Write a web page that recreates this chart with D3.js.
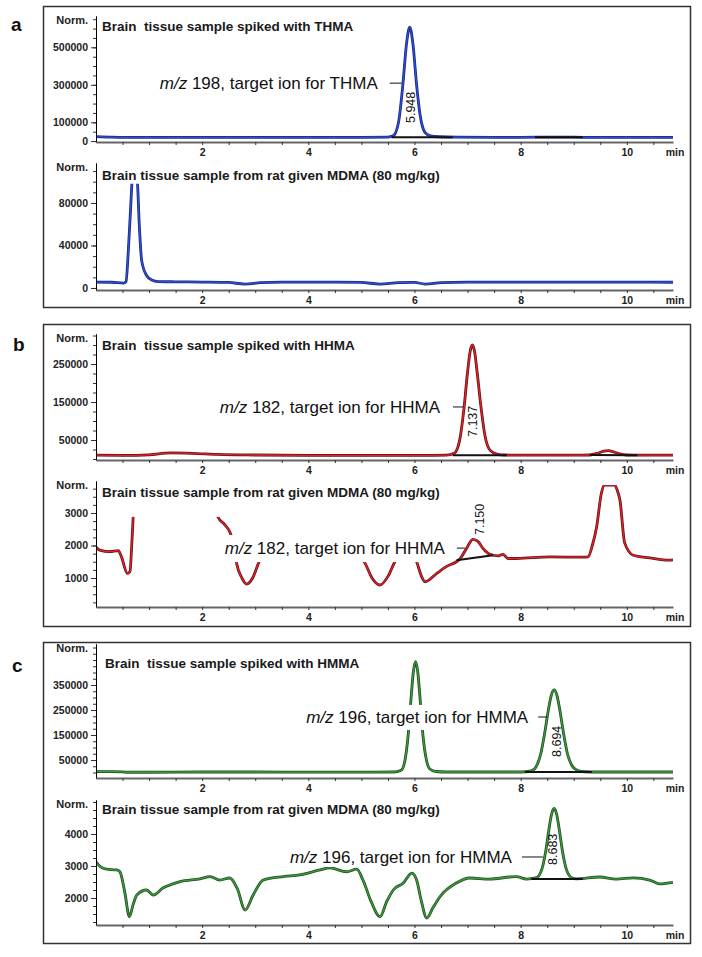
<!DOCTYPE html>
<html>
<head>
<meta charset="utf-8">
<title>Brain tissue chromatograms</title>
<script src="https://cdn.jsdelivr.net/npm/d3@7"></script>
<style>
  body { margin: 0; background: #fff; }
  text { font-family: "Liberation Sans", Arial, sans-serif; }
  .tick text { font-size: 10.5px; font-weight: bold; fill: #222; }
</style>
</head>
<body>
<div id="chart-area"></div>
<script>
/*
*    Chromatograms a/b/c : spiked brain tissue vs rat given MDMA
*/

// retention time axis (min)
var timeTicks = [2, 4, 6, 8, 10];
var timeMinor = [0.5, 1, 1.5, 2, 2.5, 3, 3.5, 4, 4.5, 5, 5.5, 6, 6.5, 7, 7.5, 8, 8.5, 9, 9.5, 10, 10.5];

// a - m/z 198 (THMA)
var thmaSpikedTime = [0, 0.3, 0.6, 1, 2, 3, 4, 5, 5.5, 5.6, 5.7, 5.78, 5.85, 5.91, 5.97, 6.04, 6.1, 6.2, 6.3, 6.45, 6.8, 8, 8.5, 8.8, 9.2, 10, 10.87];
var thmaSpikedSignal = [24000, 21000, 20000, 20000, 20000, 20000, 20000, 20000, 21000, 28000, 102000, 298000, 520000, 608000, 520000, 298000, 150000, 45000, 28000, 23000, 21000, 20000, 21000, 21500, 20000, 20000, 20000];
var thmaRatTime = [0, 0.3, 0.52, 0.565, 0.61, 0.65, 0.69, 0.72, 0.77, 0.82, 0.86, 0.95, 1.05, 1.17, 1.5, 2, 2.5, 2.8, 3.1, 3.5, 4, 4.5, 5.0, 5.35, 5.7, 6.0, 6.2, 6.5, 7, 8, 9, 10, 10.87];
var thmaRatSignal = [5600, 5400, 4600, 6000, 36000, 73000, 110000, 125000, 110000, 55000, 26000, 12000, 7500, 6000, 5800, 5600, 5200, 3700, 5000, 5600, 5600, 5600, 5200, 3700, 5000, 5200, 3700, 5000, 5600, 5600, 5600, 5500, 5400];

// b - m/z 182 (HHMA)
var hhmaSpikedTime = [0, 0.5, 1.0, 1.4, 1.8, 2.3, 3, 4, 5, 6, 6.6, 6.75, 6.85, 6.93, 7.0, 7.05, 7.09, 7.13, 7.18, 7.25, 7.33, 7.43, 7.55, 7.7, 8, 9, 9.3, 9.45, 9.55, 9.65, 9.75, 9.85, 10.0, 10.3, 10.87];
var hhmaSpikedSignal = [10000, 9500, 11000, 16000, 15000, 12000, 10500, 9500, 9500, 9500, 10000, 15000, 49000, 130000, 229000, 284000, 300000, 284000, 229000, 140000, 60000, 22000, 13000, 10500, 10000, 10000, 10500, 15000, 20000, 22000, 19000, 14000, 10500, 10000, 10000];
var hhmaRatTime = [0, 0.07, 0.26, 0.42, 0.48, 0.59, 0.64, 0.67, 0.70, 0.74, 0.8, 1.5, 2.1, 2.25, 2.30, 2.42, 2.52, 2.6, 2.65, 2.75, 2.84, 2.95, 3.06, 3.2, 3.5, 4.0, 4.6, 4.9, 5.07, 5.2, 5.35, 5.5, 5.63, 5.75, 5.9, 6.04, 6.12, 6.2, 6.42, 6.6, 6.79, 6.85, 6.98, 7.1, 7.2, 7.29, 7.42, 7.58, 7.67, 7.76, 7.92, 8.55, 9.18, 9.27, 9.35, 9.43, 9.52, 9.58, 9.67, 9.77, 9.82, 9.87, 9.96, 10.12, 10.43, 10.8, 10.87];
var hhmaRatSignal = [1960, 1860, 1810, 1840, 1650, 1140, 1200, 1900, 2870, 4200, 5000, 5000, 4000, 3100, 2870, 2650, 2420, 2000, 1450, 1000, 815, 1000, 1450, 1900, 2000, 2000, 1950, 1800, 1450, 1000, 785, 1050, 1500, 1800, 1800, 1500, 1100, 885, 1145, 1350, 1500, 1575, 1910, 2190, 2120, 1910, 1730, 1680, 1730, 1600, 1600, 1650, 1640, 1650, 2000, 2560, 3600, 3860, 3860, 3860, 3700, 3400, 2080, 1700, 1620, 1550, 1560];

// c - m/z 196 (HMMA)
var hmmaSpikedTime = [0, 0.3, 0.5, 0.6, 1, 2, 3, 4, 5, 5.6, 5.75, 5.82, 5.88, 5.94, 5.98, 6.02, 6.06, 6.1, 6.16, 6.22, 6.29, 6.4, 6.6, 7, 8, 8.2, 8.3, 8.38, 8.46, 8.53, 8.58, 8.63, 8.68, 8.73, 8.8, 8.88, 8.96, 9.06, 9.2, 9.5, 10, 10.87];
var hmmaSpikedSignal = [3500, 3500, 2500, 1000, 1000, 2000, 2000, 1500, 1500, 2000, 9000, 48000, 147000, 310000, 405000, 443000, 405000, 310000, 147000, 55000, 14000, 4000, 2000, 2000, 2000, 6000, 26600, 76000, 167000, 260000, 311000, 330000, 311000, 260000, 167000, 76000, 30000, 9000, 3000, 2000, 2000, 2000];
var hmmaRatTime = [0, 0.08, 0.2, 0.39, 0.45, 0.54, 0.63, 0.7, 0.77, 0.95, 1.08, 1.26, 1.58, 1.96, 2.15, 2.33, 2.52, 2.66, 2.81, 2.96, 3.15, 3.53, 3.84, 4.22, 4.41, 4.72, 4.91, 5.03, 5.18, 5.35, 5.48, 5.6, 5.79, 5.95, 6.04, 6.13, 6.23, 6.35, 6.48, 6.79, 7.04, 7.42, 7.8, 7.92, 8.11, 8.3, 8.4, 8.47, 8.53, 8.58, 8.63, 8.68, 8.73, 8.79, 8.86, 8.96, 9.05, 9.49, 9.8, 10.12, 10.43, 10.62, 10.84, 10.87];
var hmmaRatSignal = [3130, 2980, 2900, 2875, 2820, 2200, 1415, 1800, 2094, 2250, 2094, 2310, 2510, 2600, 2667, 2560, 2625, 2300, 1625, 2094, 2560, 2667, 2720, 2875, 2940, 2820, 2900, 2560, 1900, 1415, 1900, 2250, 2470, 2780, 2560, 1900, 1375, 1700, 2040, 2470, 2625, 2590, 2656, 2667, 2590, 2635, 2900, 3436, 4107, 4600, 4800, 4600, 4107, 3436, 2900, 2635, 2600, 2656, 2590, 2630, 2560, 2440, 2480, 2480];

// integration baselines [t1, v1, t2, v2]
var thmaSpikedBase = [[5.57, 20000, 6.72, 20000], [8.27, 21000, 9.17, 21000]];
var thmaRatBase = [];
var hhmaSpikedBase = [[6.72, 10000, 7.74, 10000], [9.3, 10500, 10.2, 10000]];
var hhmaRatBase = [[6.79, 1550, 7.48, 1700]];
var hmmaSpikedBase = [[8.08, 2000, 9.34, 2000]];
var hmmaRatBase = [[8.2, 2594, 9.17, 2594]];

// labelled y ticks
var thmaSpikedTicks = [0, 100000, 300000, 500000];
var thmaRatTicks = [0, 40000, 80000];
var hhmaSpikedTicks = [50000, 150000, 250000];
var hhmaRatTicks = [1000, 2000, 3000];
var hmmaSpikedTicks = [50000, 150000, 250000, 350000];
var hmmaRatTicks = [2000, 3000, 4000];

// texts
var titles = ["Brain  tissue sample spiked with THMA",
              "Brain tissue sample from rat given MDMA (80 mg/kg)",
              "Brain  tissue sample spiked with HHMA",
              "Brain tissue sample from rat given MDMA (80 mg/kg)",
              "Brain  tissue sample spiked with HMMA",
              "Brain tissue sample from rat given MDMA (80 mg/kg)"];
var ionLabels = ["198, target ion for THMA", null, "182, target ion for HHMA", "182, target ion for HHMA",
                 "196, target ion for HMMA", "196, target ion for HMMA"];
var rtLabels = ["5.948", null, "7.137", "7.150", "8.694", "8.683"];

var blue = ["#1c2677", "#2b50e0"], red = ["#5c1414", "#e8202a"], green = ["#1f4d1f", "#3d9b3d"];

var panels = [
    { letter: "a", top: 6, bottom: 307, lx: 11, ly: 31 },
    { letter: "b", top: 324, bottom: 626, lx: 13, ly: 351 },
    { letter: "c", top: 642, bottom: 943, lx: 12, ly: 672 }
];

var charts = [
    { time: thmaSpikedTime, signal: thmaSpikedSignal, base: thmaSpikedBase, ticks: thmaSpikedTicks, minor: 50000,
      axisY: 142, topY: 16, lo: -5000, hi: 667000, titleX: 102, titleY: 26, colors: blue,
      ionAt: [5.76, 309000], ionLead: 12, ionGap: 12, ionPad: [3, 3], rtAt: [6.01, 96300] },
    { time: thmaRatTime, signal: thmaRatSignal, base: thmaRatBase, ticks: thmaRatTicks, minor: 10000,
      axisY: 290, topY: 163, lo: -1900, hi: 117600, titleX: 102, titleY: 175, colors: blue },
    { time: hhmaSpikedTime, signal: hhmaSpikedSignal, base: hhmaSpikedBase, ticks: hhmaSpikedTicks, minor: 25000,
      axisY: 460, topY: 334, lo: -2600, hi: 329000, titleX: 102, titleY: 345, colors: red,
      ionAt: [6.914, 137000], ionLead: 10, ionGap: 13, ionPad: [3, 3], rtAt: [7.18, 57900] },
    { time: hhmaRatTime, signal: hhmaRatSignal, base: hhmaRatBase, ticks: hhmaRatTicks, minor: 250,
      axisY: 607, topY: 481, lo: 108, hi: 3985, titleX: 102, titleY: 492, colors: red, maskTo: 2880,
      ionAt: [6.95, 1920], ionLead: 8, ionGap: 12, ionPad: [4, 4], rtAt: [7.31, 2323] },
    { time: hmmaSpikedTime, signal: hmmaSpikedSignal, base: hmmaSpikedBase, ticks: hmmaSpikedTicks, minor: 25000,
      axisY: 778, topY: 644, lo: -22000, hi: 514000, titleX: 105, titleY: 663, colors: green,
      ionAt: [8.50, 222000], ionLead: 9, ionGap: 10, ionPad: [3, 3], rtAt: [8.76, 62000] },
    { time: hmmaRatTime, signal: hmmaRatSignal, base: hmmaRatBase, ticks: hmmaRatTicks, minor: 250,
      axisY: 925, topY: 800, lo: 1156, hi: 5062, titleX: 102, titleY: 809, colors: green,
      ionAt: [8.42, 3281], ionLead: 21, ionGap: 10, ionPad: [3, 0], rtAt: [8.68, 3031] }
];

var svg = d3.select("#chart-area")
    .append("svg")
    .attr("width", 702)
    .attr("height", 957);

var x = d3.scaleLinear().domain([0, 10.87]).range([96, 673]);

// panel frames and letters
panels.forEach(function(p) {
    svg.append("rect")
        .attr("x", 43.5).attr("y", p.top + 0.5)
        .attr("width", 647).attr("height", p.bottom - p.top)
        .attr("fill", "none").attr("stroke", "#333").attr("stroke-width", 1.5);
    svg.append("text")
        .attr("x", p.lx).attr("y", p.ly)
        .attr("font-size", 19).attr("font-weight", "bold").attr("fill", "#111")
        .text(p.letter);
});

charts.forEach(function(c, i) {
    c.title = titles[i];
    c.ion = ionLabels[i];
    c.rt = rtLabels[i];
    drawChart(c, i);
});

function drawChart(c, i) {
    var y = d3.scaleLinear().domain([c.lo, c.hi]).range([c.axisY, c.topY]);
    var g = svg.append("g").attr("class", "chart");

    g.append("clipPath").attr("id", "clip" + i)
        .append("rect")
        .attr("x", x.range()[0]).attr("y", c.topY + 4)
        .attr("width", x.range()[1] - x.range()[0])
        .attr("height", c.axisY - c.topY - 4);

    var points = c.time.map(function(t, k) { return [t, c.signal[k]]; });
    var line = d3.line()
        .x(function(d) { return x(d[0]); })
        .y(function(d) { return y(d[1]); })
        .curve(d3.curveMonotoneX);

    // trace: dark edge + coloured core
    var traces = g.append("g").attr("clip-path", "url(#clip" + i + ")");
    traces.append("path").datum(points)
        .attr("d", line).attr("fill", "none")
        .attr("stroke", c.colors[0]).attr("stroke-width", 2.8)
        .attr("stroke-linejoin", "round");
    traces.append("path").datum(points)
        .attr("d", line).attr("fill", "none")
        .attr("stroke", c.colors[1]).attr("stroke-width", 1.3)
        .attr("stroke-linejoin", "round");

    // integration baselines
    g.selectAll("line.base").data(c.base).enter().append("line")
        .attr("class", "base")
        .attr("x1", function(d) { return x(d[0]); })
        .attr("y1", function(d) { return y(d[1]); })
        .attr("x2", function(d) { return x(d[2]); })
        .attr("y2", function(d) { return y(d[3]); })
        .attr("stroke", "#111").attr("stroke-width", 2);

    // title with white box behind
    var title = g.append("text")
        .attr("x", c.titleX).attr("y", c.titleY).attr("dy", "0.35em")
        .attr("xml:space", "preserve").style("white-space", "pre")
        .attr("font-size", 13.5).attr("font-weight", "bold").attr("fill", "#1a1a1a")
        .text(c.title);
    var tb = title.node().getBBox();
    var tBottom = c.maskTo != null ? y(c.maskTo) : tb.y + tb.height + 1;
    g.insert("rect", function() { return title.node(); })
        .attr("x", tb.x - 2).attr("y", tb.y - 1)
        .attr("width", tb.width + 4).attr("height", tBottom - tb.y + 1)
        .attr("fill", "#fff");

    // m/z annotation
    if (c.ion) {
        var lx = x(c.ionAt[0]), ly = y(c.ionAt[1]);
        var ion = g.append("text")
            .attr("x", lx - c.ionLead - c.ionGap).attr("y", ly).attr("dy", "0.35em")
            .attr("text-anchor", "end").attr("font-size", 17).attr("fill", "#111");
        ion.append("tspan").attr("font-style", "italic").text("m/z");
        ion.append("tspan").text(" " + c.ion);
        var ib = ion.node().getBBox();
        g.insert("rect", function() { return ion.node(); })
            .attr("x", ib.x - 3).attr("y", ib.y - c.ionPad[0])
            .attr("width", ib.width + 6).attr("height", ib.height + c.ionPad[0] + c.ionPad[1])
            .attr("fill", "#fff");
        g.append("line")
            .attr("x1", lx - c.ionLead).attr("x2", lx)
            .attr("y1", ly).attr("y2", ly)
            .attr("stroke", "#111").attr("stroke-width", 1);
    }

    // retention time label
    if (c.rt) {
        g.append("text")
            .attr("transform", "translate(" + x(c.rtAt[0]) + "," + y(c.rtAt[1]) + ") rotate(-90)")
            .attr("font-size", 12.5).attr("fill", "#111")
            .text(c.rt);
    }

    // y axis
    var minorTicks = d3.range(c.minor * Math.ceil(c.lo / c.minor), c.hi, c.minor);
    var yMinor = d3.axisLeft(y).tickValues(minorTicks).tickSize(3).tickSizeOuter(0).tickFormat("");
    var yAxis = d3.axisLeft(y).tickValues(c.ticks).tickSize(5).tickSizeOuter(0)
        .tickPadding(3).tickFormat(d3.format("d"));
    g.append("g").attr("transform", "translate(" + x.range()[0] + ",0)").call(yMinor);
    g.append("g").attr("transform", "translate(" + x.range()[0] + ",0)").call(yAxis);

    g.append("text")
        .attr("x", 88).attr("y", c.topY + 4).attr("dy", "0.35em")
        .attr("text-anchor", "end").attr("font-size", 11).attr("font-weight", "bold").attr("fill", "#222")
        .text("Norm.");

    // x axis
    var xAxis = d3.axisBottom(x).tickValues(timeMinor).tickSize(3).tickSizeOuter(0).tickPadding(3.5)
        .tickFormat(function(d) { return timeTicks.indexOf(d) >= 0 ? d : ""; });
    var xg = g.append("g").attr("transform", "translate(0," + c.axisY + ")").call(xAxis);
    xg.select(".domain").attr("stroke", "#666").attr("stroke-width", 2);

    g.append("text")
        .attr("x", 675).attr("y", c.axisY + 14)
        .attr("text-anchor", "middle").attr("font-size", 10.5).attr("font-weight", "bold").attr("fill", "#222")
        .text("min");

    g.selectAll(".tick line").attr("stroke", "#333");
}
</script>
</body>
</html>
